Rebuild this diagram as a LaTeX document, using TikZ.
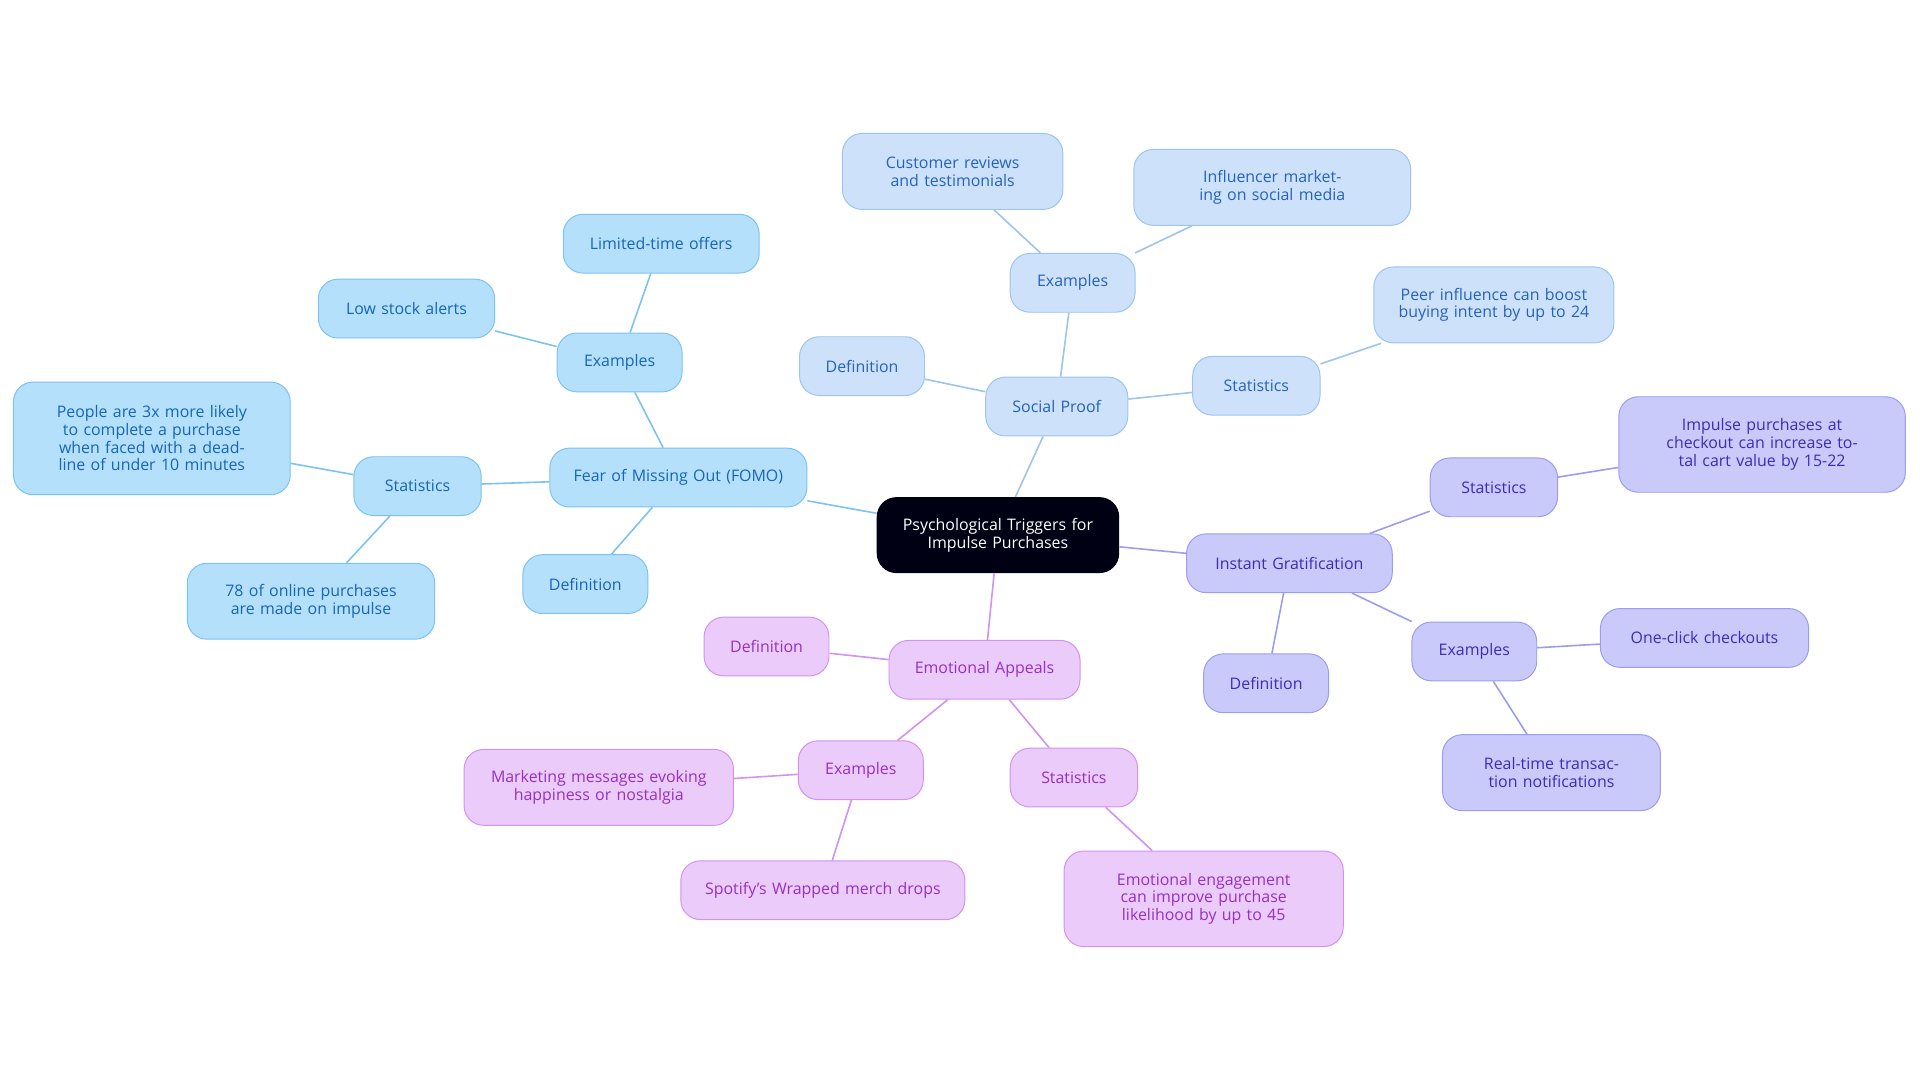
\documentclass[tikz,border=0pt]{standalone}
\usepackage{fontspec}
\setmainfont{Open Sans}
\begin{document}
\begin{tikzpicture}[x=1pt,y=-1pt,
 base/.style={rounded corners=16pt,draw,line width=0.8pt,align=center,font=\fontsize{13}{14.5}\selectfont,inner sep=0pt},
 fb/.style={base,fill=fomoF,draw=fomoD,text=fomoT},
 sb/.style={base,fill=spF,draw=spD,text=spT},
 ib/.style={base,fill=igF,draw=igD,text=igT},
 eb/.style={base,fill=eaF,draw=eaD,text=eaT},
 fl/.style={draw=fomoD,line width=1.3pt},
 sl/.style={draw=spD,line width=1.3pt},
 il/.style={draw=igD,line width=1.3pt},
 el/.style={draw=eaD,line width=1.3pt}]
\definecolor{fomoF}{HTML}{B5E0FC}\definecolor{fomoD}{HTML}{7CC3F2}\definecolor{fomoT}{HTML}{1565B8}
\definecolor{spF}{HTML}{CDE2FA}\definecolor{spD}{HTML}{9CC4EE}\definecolor{spT}{HTML}{2462BE}
\definecolor{igF}{HTML}{C9C9FA}\definecolor{igD}{HTML}{9C9CF0}\definecolor{igT}{HTML}{3A2DB8}
\definecolor{eaF}{HTML}{EBCBFA}\definecolor{eaD}{HTML}{D391F0}\definecolor{eaT}{HTML}{9530C4}
\useasboundingbox[fill=white] (0,0) rectangle (1568,884);
\newcommand{\nd}[7]{\node[#1,minimum width=#4,minimum height=#5,text width=#6] (#2) at #3 {#7};}
% center
\node[rounded corners=16pt,fill=black!92!blue,text=white,align=center,font=\fontsize{13}{14.5}\selectfont,minimum width=198,minimum height=62,text width=180] (c) at (815,437) {Psychological Triggers for\\Impulse Purchases};
% FOMO
\nd{fb}{f}{(554,390)}{210}{48}{200}{Fear of Missing Out (FOMO)}
\nd{fb}{fe}{(506,296)}{102}{48}{95}{Examples}
\nd{fb}{fe1}{(540,199)}{160}{48}{150}{Limited-time offers}
\nd{fb}{fe2}{(332,252)}{144}{48}{135}{Low stock alerts}
\nd{fb}{fs}{(341,397)}{104}{48}{95}{Statistics}
\nd{fb}{fs1}{(124,358)}{226}{92}{195}{People are 3x more likely to complete a purchase when faced with a deadline of under 10 minutes}
\nd{fb}{fs2}{(254,491)}{202}{62}{180}{78 of online purchases are made on impulse}
\nd{fb}{fd}{(478,477)}{102}{48}{95}{Definition}
% Social proof
\nd{sb}{s}{(863,332)}{116}{48}{110}{Social Proof}
\nd{sb}{se}{(876,231)}{102}{48}{95}{Examples}
\nd{sb}{se1}{(778,140)}{180}{62}{160}{Customer reviews and testimonials}
\nd{sb}{se2}{(1039,153)}{226}{62}{200}{Influencer marketing on social media}
\nd{sb}{sd}{(704,299)}{102}{48}{95}{Definition}
\nd{sb}{ss}{(1026,315)}{104}{48}{95}{Statistics}
\nd{sb}{ss1}{(1220,249)}{196}{62}{170}{Peer influence can boost buying intent by up to 24}
% Instant gratification
\nd{ib}{i}{(1053,460)}{168}{48}{160}{Instant Gratification}
\nd{ib}{is}{(1220,398)}{104}{48}{95}{Statistics}
\nd{ib}{is1}{(1439,363)}{234}{78}{200}{Impulse purchases at checkout can increase total cart value by 15-22}
\nd{ib}{id}{(1034,558)}{102}{48}{95}{Definition}
\nd{ib}{ie}{(1204,532)}{102}{48}{95}{Examples}
\nd{ib}{ie1}{(1392,521)}{170}{48}{160}{One-click checkouts}
\nd{ib}{ie2}{(1267,631)}{178}{62}{150}{Real-time transaction notifications}
% Emotional appeals
\nd{eb}{e}{(804,547)}{156}{48}{150}{Emotional Appeals}
\nd{eb}{ed}{(626,528)}{102}{48}{95}{Definition}
\nd{eb}{ee}{(703,629)}{102}{48}{95}{Examples}
\nd{eb}{ee1}{(489,643)}{220}{62}{190}{Marketing messages evoking happiness or nostalgia}
\nd{eb}{ee2}{(672,727)}{232}{48}{225}{Spotify's Wrapped merch drops}
\nd{eb}{es}{(877,635)}{104}{48}{95}{Statistics}
\nd{eb}{es1}{(983,734)}{228}{78}{195}{Emotional engagement can improve purchase likelihood by up to 45}
% connectors
\begin{scope}[on background layer/.style={}]
\end{scope}
\path[fl] (c) -- (f);
\path[fl] (f) -- (fe); \path[fl] (fe) -- (fe1); \path[fl] (fe) -- (fe2);
\path[fl] (f) -- (fs); \path[fl] (fs) -- (fs1); \path[fl] (fs) -- (fs2);
\path[fl] (f) -- (fd);
\path[sl] (c) -- (s);
\path[sl] (s) -- (se); \path[sl] (se) -- (se1); \path[sl] (se) -- (se2);
\path[sl] (s) -- (sd); \path[sl] (s) -- (ss); \path[sl] (ss) -- (ss1);
\path[il] (c) -- (i);
\path[il] (i) -- (is); \path[il] (is) -- (is1); \path[il] (i) -- (id);
\path[il] (i) -- (ie); \path[il] (ie) -- (ie1); \path[il] (ie) -- (ie2);
\path[el] (c) -- (e);
\path[el] (e) -- (ed); \path[el] (e) -- (ee); \path[el] (ee) -- (ee1); \path[el] (ee) -- (ee2);
\path[el] (e) -- (es); \path[el] (es) -- (es1);
\end{tikzpicture}
\end{document}
